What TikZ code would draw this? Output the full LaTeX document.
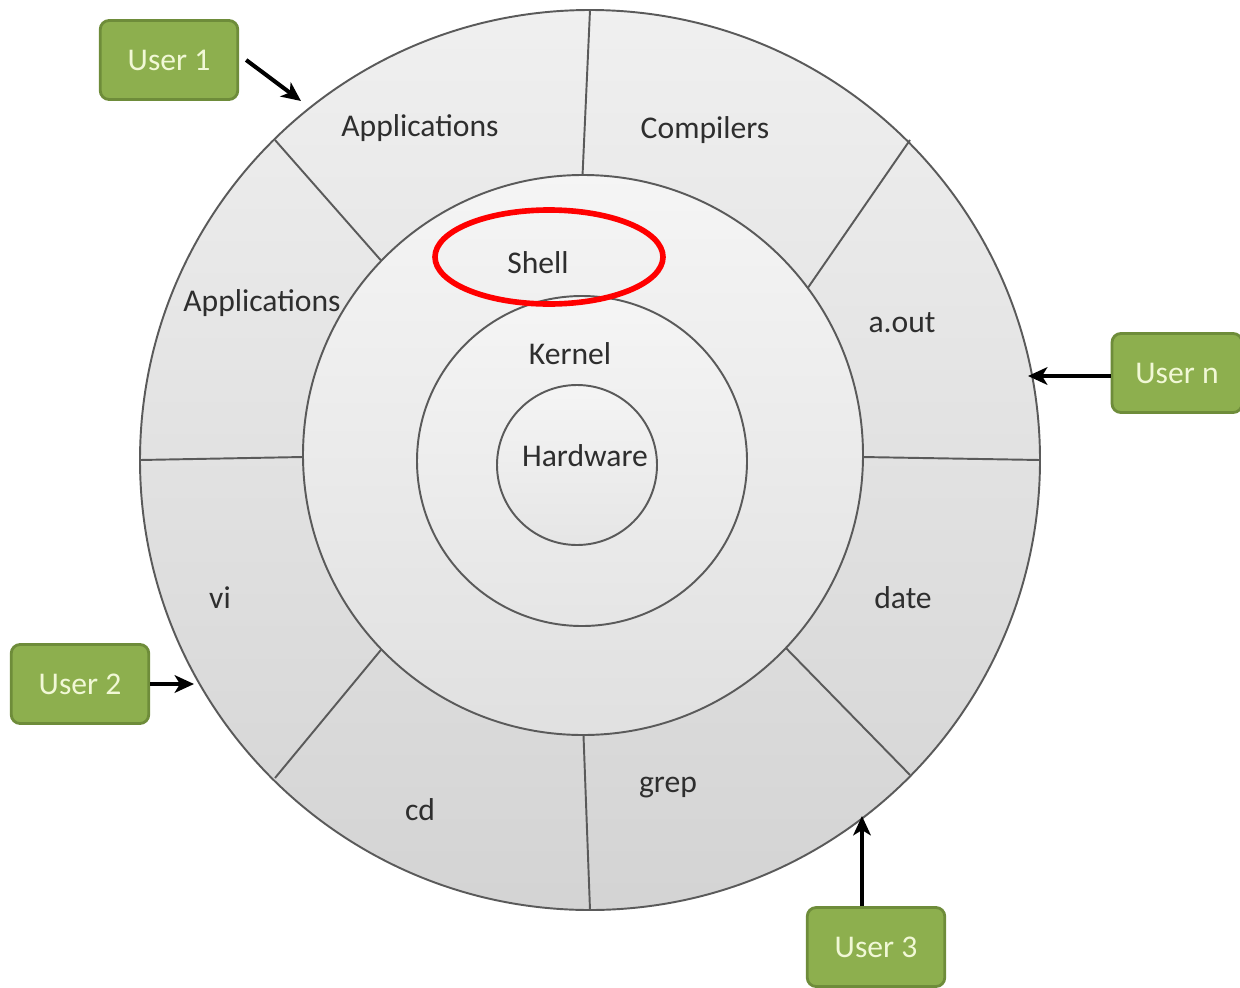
\documentclass[tikz,border=0pt]{standalone}
\usepackage{fontspec}
\setmainfont{Carlito}
\usepackage{tikz}
\usetikzlibrary{arrows.meta}
\definecolor{userGreen}{HTML}{8DAF4E}
\definecolor{userEdge}{HTML}{6E8C3A}
\definecolor{userText}{HTML}{F1F8D6}
\definecolor{ringEdge}{HTML}{5A5A5A}
\definecolor{labelGray}{HTML}{2E2E2E}

\tikzset{
    ring/.style={draw=ringEdge, line width=1.1pt, top color=gray!12, bottom color=gray!34},
    layerlabel/.style={text=labelGray, font=\fontsize{18}{20}\selectfont},
    userbox/.style={draw=userEdge, line width=1.6pt, fill=userGreen, rounded corners=5pt,
        minimum width=2.75cm, minimum height=1.58cm, text=userText,
        font=\fontsize{18}{20}\selectfont},
    userarrow/.style={-{Stealth[length=11pt, width=10pt, inset=3pt]}, line width=2.3pt, black}
}

\begin{document}
\begin{tikzpicture}[x=0.02cm, y=-0.02cm]
    \useasboundingbox (0, 0) rectangle (1240, 987);

    % rings
    \draw[ring] (590, 460) circle[radius=450];
    \foreach \xa/\ya/\xb/\yb in {590/10/582/187, 275/140/385/265, 140/460/303/457, 275/778/385/645,
                       583/722/590/910, 783/645/910/775, 862/457/1040/460, 805/292/910/140}
        \draw[ringEdge, line width=1.1pt] (\xa, \ya) -- (\xb, \yb);
    \draw[ring, top color=gray!8, bottom color=gray!24] (583, 455) circle[radius=280];
    \draw[ring, top color=gray!8, bottom color=gray!20] (582, 461) circle[radius=165];
    \draw[ring, top color=gray!8, bottom color=gray!20] (577, 465) circle[radius=80];

    % layer labels
    \node[layerlabel] (apps1) at (420, 128) {Applications};
    \node[layerlabel] (comp) at (705, 130) {Compilers};
    \node[layerlabel] (apps2) at (262, 303) {Applications};
    \node[layerlabel] (aout) at (902, 323) {a.out};
    \node[layerlabel] (vi) at (220, 598) {vi};
    \node[layerlabel] (date) at (903, 598) {date};
    \node[layerlabel] (cd) at (420, 810) {cd};
    \node[layerlabel] (grep) at (668, 788) {grep};
    \node[layerlabel] (shell) at (538, 263) {Shell};
    \node[layerlabel] (kernel) at (570, 354) {Kernel};
    \node[layerlabel] (hw) at (585, 456) {Hardware};

    % highlight
    \draw[red, line width=3.2pt] (549, 257) ellipse[x radius=114, y radius=47];

    % users
    \node[userbox] (user1) at (169, 60) {User 1};
    \node[userbox, minimum width=2.6cm] (usern) at (1177, 373) {User n};
    \node[userbox] (user2) at (80, 684) {User 2};
    \node[userbox] (user3) at (876, 947) {User 3};

    \coordinate (in1) at (301, 101);
    \coordinate (inn) at (1028, 376);
    \coordinate (in2) at (194, 684);
    \coordinate (in3) at (862, 816);

    \draw[userarrow] ([xshift=4pt]user1.east) -- (in1);
    \draw[userarrow] (usern.west |- inn) -- (inn);
    \draw[userarrow] (user2.east) -- (in2);
    \draw[userarrow] (user3.north -| in3) -- (in3);
\end{tikzpicture}
\end{document}
